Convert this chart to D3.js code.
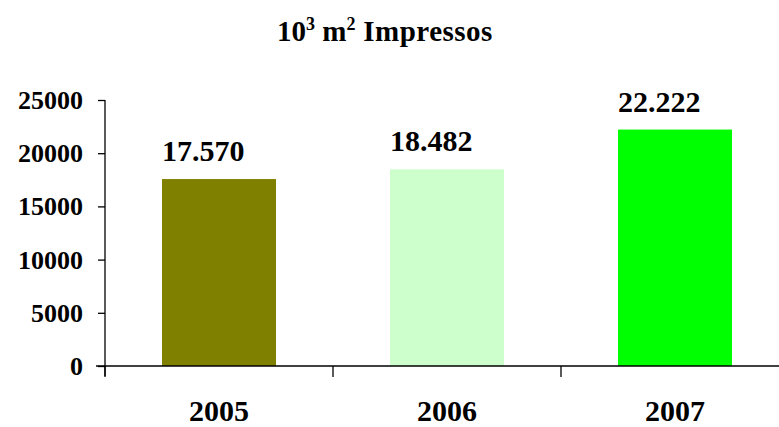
<!DOCTYPE html>
<html>
<head>
<meta charset="utf-8">
<script src="https://cdn.jsdelivr.net/npm/d3@7"></script>
<style>
body { margin: 0; background: #fff; }
svg text { font-family: "Liberation Serif", "Times New Roman", serif; font-weight: bold; fill: #000; }
</style>
</head>
<body>
<div id="chart"></div>
<script>
const years = ["2005", "2006", "2007"];
const values = [17570, 18482, 22222];
const valueLabels = ["17.570", "18.482", "22.222"];
const barColors = ["#808000", "#ccffcc", "#00ff00"];
const yTicks = [0, 5000, 10000, 15000, 20000, 25000];

const W = 779, H = 427;
const margin = {top: 100, right: -10, bottom: 61, left: 105},
width = W - margin.left - margin.right,
height = H - margin.top - margin.bottom;

const svg = d3.select("#chart")
.append("svg")
.attr("width", W)
.attr("height", H);

// title with superscripts
const title = svg.append("text")
.attr("x", 385)
.attr("y", 41)
.attr("text-anchor", "middle")
.style("font-size", "29px");
title.append("tspan").text("10");
title.append("tspan").attr("dy", -11).style("font-size", "18px").text("3");
title.append("tspan").attr("dy", 11).text(" m");
title.append("tspan").attr("dy", -11).style("font-size", "18px").text("2");
title.append("tspan").attr("dy", 11).style("letter-spacing", "0.5px").text(" Impressos");

const g = svg.append("g")
.attr("transform", `translate(${margin.left},${margin.top})`);

const x = d3.scaleBand()
.domain(years)
.range([0, width])
.paddingInner(0.5)
.paddingOuter(0.25);

const xEdges = d3.scaleBand()
.domain(years)
.range([0, width]);

const y = d3.scaleLinear()
.domain([0, 25000])
.range([height, 0]);

// bars
g.selectAll("rect.bar")
.data(values)
.join("rect")
.attr("class", "bar")
.attr("x", (d, i) => x(years[i]))
.attr("y", d => y(d))
.attr("width", x.bandwidth())
.attr("height", d => height - y(d))
.attr("fill", (d, i) => barColors[i]);

// value labels, left aligned with the bar
g.selectAll("text.val")
.data(values)
.join("text")
.attr("class", "val")
.attr("x", (d, i) => x(years[i]))
.attr("y", d => y(d) - 18)
.style("font-size", "30px")
.text((d, i) => valueLabels[i]);

// y axis
const yAxis = g.append("g")
.call(d3.axisLeft(y).tickValues(yTicks).tickSize(7).tickPadding(15).tickFormat(d3.format("d")));
yAxis.select(".domain").attr("d", `M0,${height + 10}V0`).attr("stroke", "#000").attr("stroke-width", 1.3);
yAxis.selectAll(".tick line").attr("stroke", "#000").attr("stroke-width", 1.3);
yAxis.selectAll(".tick text")
.style("font-size", "26px")
.attr("dy", "0.33em");

// x axis
const xAxis = g.append("g")
.attr("transform", `translate(0,${height})`);
xAxis.append("line")
.attr("x1", -9)
.attr("x2", width)
.attr("stroke", "#000")
.attr("stroke-width", 1.3);
xAxis.selectAll("line.sep")
.data(years)
.join("line")
.attr("class", "sep")
.attr("x1", d => xEdges(d))
.attr("x2", d => xEdges(d))
.attr("y1", 0)
.attr("y2", 11)
.attr("stroke", "#000")
.attr("stroke-width", 1.3);
xAxis.selectAll("text.yr")
.data(years)
.join("text")
.attr("class", "yr")
.attr("x", d => xEdges(d) + xEdges.bandwidth() / 2)
.attr("y", 55)
.attr("text-anchor", "middle")
.style("font-size", "30px")
.text(d => d);
</script>
</body>
</html>
